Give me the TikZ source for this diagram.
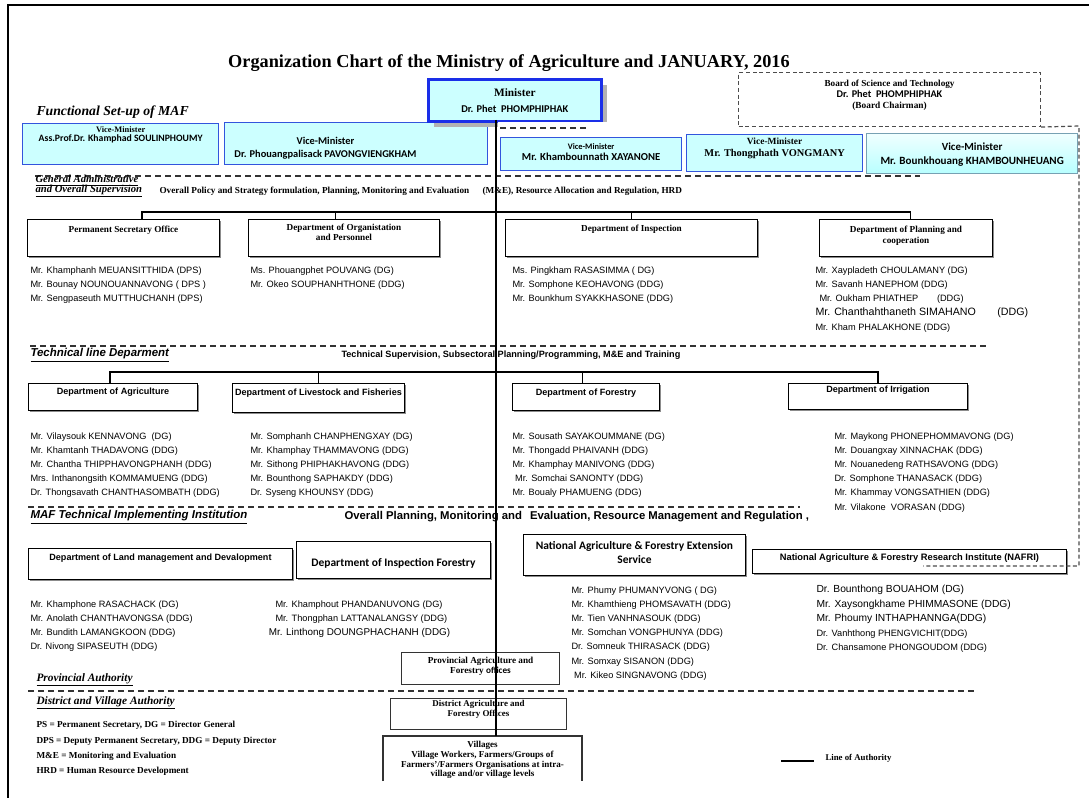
\documentclass[tikz,border=0pt]{standalone}
\usepackage{fontspec}
\setmainfont{Liberation Serif}
\setsansfont{Liberation Sans}
\newfontfamily\calibri{Carlito}
\usetikzlibrary{positioning,shadows}

\definecolor{vmfill}{HTML}{CCFFFF}
\definecolor{vmblue}{HTML}{3355DD}
\definecolor{minblue}{HTML}{1A2FE8}
\newcommand{\fsz}[2]{\fontsize{#1}{#2}\selectfont}

\tikzset{every picture/.style={line width=0.75pt}}
\tikzset{
  ttl/.style={font={\bfseries\fsz{13.7}{16}}, inner sep=0pt},
  secserif/.style={font={\bfseries\itshape\fsz{8}{7.2}\lineskiplimit=-6pt}, inner sep=0pt, anchor=north west, align=left},
  secsans/.style={font={\sffamily\bfseries\itshape\fsz{8.6}{10}}, inner sep=0pt, anchor=west},
  note/.style={font={\bfseries\fsz{6.9}{8}}, inner sep=0pt, anchor=west},
  notesans/.style={font={\sffamily\bfseries\fsz{6.85}{8}}, inner sep=0pt, anchor=west},
  namelist/.style={font={\sffamily\fsz{6.9}{10.7}}, inner sep=0pt, anchor=north west, align=left},
  vmbox/.style={draw=vmblue, fill=vmfill, line width=1pt, inner sep=0pt, anchor=north west},
  deptbox/.style={draw, fill=white, line width=0.7pt, inner sep=0pt, anchor=north west,
    drop shadow={shadow xshift=1.5pt, shadow yshift=-1.5pt, fill=black!45, opacity=1}},
  plainbox/.style={draw=black!80, fill=white, line width=0.8pt, inner sep=0pt, anchor=north west},
  lbl/.style={inner sep=0pt, align=center, anchor=north},
  serifb/.style={font={\bfseries\fsz{6.9}{8.3}}},
  sansb/.style={font={\sffamily\bfseries\fsz{6.8}{8.3}}},
  calb/.style={font={\calibri\bfseries\fsz{8.6}{10.5}}},
  tree/.style={line width=1.1pt},
  sepline/.style={dash pattern=on 4.5pt off 3pt, line width=0.9pt, black!80},
}

\begin{document}
\begin{tikzpicture}[x=0.75pt,y=-0.75pt]
\useasboundingbox (0,0) rectangle (1089,798);
% frame
\draw[line width=1pt] (8,798) -- (8,5) -- (1089,5);

\node[ttl] (title) at (509,63) {Organization Chart of the Ministry of Agriculture and JANUARY, 2016};

% vice-ministers
\node[vmbox, minimum width=196*0.75pt, minimum height=41*0.75pt] (vm1) at (22,123) {};
\node[vmbox, minimum width=263*0.75pt, minimum height=42*0.75pt] (vm2) at (224,122) {};
\node[vmbox, minimum width=181*0.75pt, minimum height=33*0.75pt] (vm3) at (500,137) {};
\node[vmbox, minimum width=176*0.75pt, minimum height=37*0.75pt] (vm4) at (686,134) {};
\node[vmbox, draw=cyan!35!gray, top color=cyan!6, bottom color=cyan!28, minimum width=211*0.75pt,
  minimum height=40*0.75pt] (vm5) at (866,133) {};
\node[lbl, font={\bfseries\fsz{6.3}{6.6}}, yshift=-2.25pt] (vm1t) at (vm1.north)
  {Vice-Minister\\{\calibri\fsz{7.3}{6.6}Ass.Prof.Dr. Khamphad SOULINPHOUMY}};
\node[lbl, font={\calibri\bfseries\fsz{7.8}{9.75}}, xshift=-23pt, yshift=-10.8pt] (vm2t) at (vm2.north)
  {Vice-Minister\\Dr. Phouangpalisack PAVONGVIENGKHAM};
\node[lbl, font={\calibri\bfseries\fsz{6.3}{8.25}}, yshift=-4.5pt] (vm3t) at (vm3.north)
  {Vice-Minister\\{\fsz{8}{8.25}Mr. Khambounnath XAYANONE}};
\node[lbl, font={\bfseries\fsz{7.1}{9}}, yshift=-2.8pt] (vm4t) at (vm4.north)
  {Vice-Minister\\{\fsz{7.8}{9}Mr. Thongphath VONGMANY}};
\node[lbl, font={\calibri\bfseries\fsz{8.2}{10.5}}, yshift=-6.75pt] (vm5t) at (vm5.north)
  {Vice-Minister\\{\fsz{8.3}{10.5}Mr. Bounkhouang KHAMBOUNHEUANG}};

% minister and board
\node[draw=minblue, line width=2pt, fill=vmfill, minimum width=173*0.75pt, minimum height=42*0.75pt,
  anchor=north west, align=center, inner sep=0pt, font={\bfseries\fsz{8.5}{12}},
  drop shadow={shadow xshift=4.5pt, shadow yshift=-4.5pt, fill=black!30, opacity=1}] (min) at (427,78)
  {Minister\\{\calibri\fsz{7.8}{12}Dr. Phet\ \ PHOMPHIPHAK}};
\fill[white] (498,122.2) rectangle (612,127);
\node[draw=black!70, dash pattern=on 3pt off 2pt, line width=0.8pt, minimum width=302*0.75pt,
  minimum height=54*0.75pt, anchor=north west, inner sep=0pt] (board) at (738,72) {};
\node[lbl, font={\bfseries\fsz{6.9}{8.25}}, yshift=-6pt] (boardt) at (board.north)
  {Board of Science and Technology\\{\calibri\fsz{7.7}{8.25}Dr. Phet\ \ PHOMPHIPHAK}\\{\fsz{7}{8.25}(Board Chairman)}};

\node[font={\bfseries\itshape\fsz{10.3}{12}}, inner sep=0pt, anchor=west] (fsu) at (36,112) {Functional Set-up of MAF};

% dashed limits
\draw[sepline] (500,128) -- (586,128);
\draw[sepline] (35,176) -- (920,176);

% general administrative
\node[secserif] (gen) at (35,175) {\underline{General Administrative}\\\underline{and Overall Supervision}};
\node[note] (gent) at (159,191) {Overall Policy and Strategy formulation, Planning, Monitoring and Evaluation\hspace{10pt}(M\&E), Resource Allocation and Regulation, HRD};

\node[deptbox, minimum width=192*0.75pt, minimum height=37*0.75pt] (pso) at (27,219) {};
\node[deptbox, minimum width=191*0.75pt, minimum height=37*0.75pt] (dop) at (248,219) {};
\node[deptbox, minimum width=252*0.75pt, minimum height=37*0.75pt] (ins) at (505,219) {};
\node[deptbox, minimum width=173*0.75pt, minimum height=37*0.75pt] (pln) at (819,219) {};
\node[lbl, serifb, yshift=-5.1pt] (psot) at (pso.north) {Permanent Secretary Office};
\node[lbl, serifb, font={\bfseries\fsz{6.9}{7.1}}, yshift=-3.6pt] (dopt) at (dop.north) {Department of Organistation\\and Personnel};
\node[lbl, serifb, yshift=-4.3pt] (inst) at (ins.north) {Department of Inspection};
\node[lbl, serifb, font={\bfseries\fsz{6.9}{8.25}}, yshift=-5.1pt] (plnt) at (pln.north) {Department of Planning and\\cooperation};
\coordinate (bar1) at (496,212);
\draw[tree] ([xshift=14pt]pso.north) |- (bar1) -| ([xshift=3.4pt]pln.north);
\draw[tree] ([xshift=-6.4pt]dop.north) -- ++(0,-7);
\draw[tree] (ins.north) -- ++(0,-7);

\node[namelist] (psol) at (30,266) {Mr. Khamphanh MEUANSITTHIDA (DPS)\\Mr. Bounay NOUNOUANNAVONG ( DPS )\\Mr. Sengpaseuth MUTTHUCHANH (DPS)};
\node[namelist] (dopl) at (250,266) {Ms. Phouangphet POUVANG (DG)\\Mr. Okeo SOUPHANHTHONE (DDG)};
\node[namelist] (insl) at (512,266) {Ms. Pingkham RASASIMMA ( DG)\\Mr. Somphone KEOHAVONG (DDG)\\Mr. Bounkhum SYAKKHASONE (DDG)};
\node[namelist] (plnl) at (815,266) {Mr. Xaypladeth CHOULAMANY (DG)\\Mr. Savanh HANEPHOM (DDG)\\\hspace*{3pt}Mr. Oukham PHIATHEP\hspace{14pt}(DDG)\\{\fsz{8}{10.7}Mr. Chanthahthaneth SIMAHANO\hspace{16pt}(DDG)}\\Mr. Kham PHALAKHONE (DDG)};

\draw[sepline] (30,346) -- (990,346);

% technical line
\node[secsans] (tech) at (30,355) {\underline{Technical line Deparment}};
\node[notesans] (techt) at (341,355) {Technical Supervision, Subsectoral Planning/Programming, M\&E and Training};

\node[deptbox, minimum width=169*0.75pt, minimum height=27*0.75pt] (agr) at (28,383) {};
\node[deptbox, minimum width=172*0.75pt, minimum height=29*0.75pt] (liv) at (232,383) {};
\node[deptbox, minimum width=147*0.75pt, minimum height=27*0.75pt] (forb) at (512,383) {};
\node[deptbox, minimum width=179*0.75pt, minimum height=26*0.75pt] (irr) at (788,383) {};
\node[lbl, sansb, yshift=-3.6pt] (agrt) at (agr.north) {Department of Agriculture};
\node[lbl, sansb, yshift=-4.3pt] (livt) at (liv.north) {Department of Livestock and Fisheries};
\node[lbl, sansb, yshift=-4.3pt] (fort) at (forb.north) {Department of Forestry};
\node[lbl, sansb, yshift=-2.1pt] (irrt) at (irr.north) {Department of Irrigation};
\coordinate (bar2) at (496,372);
\draw[tree] ([xshift=-2.25pt]agr.north) |- (bar2) -| (irr.north);
\draw[tree] (liv.north) -- ++(0,-11);
\draw[tree] ([xshift=-2.6pt]forb.north) -- ++(0,-11);

\node[namelist, font={\sffamily\fsz{6.9}{10.65}}] (agrl) at (30,432) {Mr. Vilaysouk KENNAVONG\ \ (DG)\\Mr. Khamtanh THADAVONG (DDG)\\Mr. Chantha THIPPHAVONGPHANH (DDG)\\Mrs. Inthanongsith KOMMAMUENG (DDG)\\Dr. Thongsavath CHANTHASOMBATH (DDG)};
\node[namelist, font={\sffamily\fsz{6.9}{10.65}}] (livl) at (250,432) {Mr. Somphanh CHANPHENGXAY (DG)\\Mr. Khamphay THAMMAVONG (DDG)\\Mr. Sithong PHIPHAKHAVONG (DDG)\\Mr. Bounthong SAPHAKDY (DDG)\\Dr. Syseng KHOUNSY (DDG)};
\node[namelist, font={\sffamily\fsz{6.9}{10.65}}] (forl) at (512,432) {Mr. Sousath SAYAKOUMMANE (DG)\\Mr. Thongadd PHAIVANH (DDG)\\Mr. Khamphay MANIVONG (DDG)\\\hspace*{2pt}Mr. Somchai SANONTY (DDG)\\Mr. Boualy PHAMUENG (DDG)};
\node[namelist, font={\sffamily\fsz{6.9}{10.65}}] (irrl) at (834,432) {Mr. Maykong PHONEPHOMMAVONG (DG)\\Mr. Douangxay XINNACHAK (DDG)\\Mr. Nouanedeng RATHSAVONG (DDG)\\Dr. Somphone THANASACK (DDG)\\Mr. Khammay VONGSATHIEN (DDG)\\Mr. Vilakone\ \ VORASAN (DDG)};

\draw[sepline] (28,507) -- (800,507);

% implementing institutions
\node[secsans] (maf) at (30,517) {\underline{MAF Technical Implementing Institution}};
\node[notesans, font={\sffamily\bfseries\fsz{8.5}{9}}] (maft) at (344,517) {Overall Planning, Monitoring and\hspace{6pt}Evaluation, Resource Management and Regulation ,};

\node[deptbox, minimum width=264*0.75pt, minimum height=31*0.75pt] (lnd) at (28,548) {};
\node[deptbox, minimum width=194*0.75pt, minimum height=37*0.75pt] (ifr) at (296,541) {};
\node[deptbox, minimum width=222*0.75pt, minimum height=41*0.75pt] (ext) at (523,534) {};
\node[deptbox, minimum width=314*0.75pt, minimum height=24*0.75pt] (naf) at (752,549) {};
\node[lbl, sansb, yshift=-4.3pt] (lndt) at (lnd.north) {Department of Land management and Devalopment};
\node[lbl, calb, yshift=-12.75pt] (ifrt) at (ifr.north) {Department of Inspection Forestry};
\node[lbl, calb, yshift=-5.25pt] (extt) at (ext.north) {National Agriculture \& Forestry Extension\\Service};
\node[lbl, sansb, font={\sffamily\bfseries\fsz{7}{8}}, yshift=-3.5pt] (naft) at (naf.north) {National Agriculture \& Forestry Research Institute (NAFRI)};

% dashed limit of the board
\draw[sepline, dash pattern=on 3pt off 2pt, black!70] (board.south east) -- (1079,126) -- (1079,566) -- (923,566);

\node[namelist] (lndl) at (30,600) {Mr. Khamphone RASACHACK (DG)\\Mr. Anolath CHANTHAVONGSA (DDG)\\Mr. Bundith LAMANGKOON (DDG)\\Dr. Nivong SIPASEUTH (DDG)};
\node[namelist] (ifrl) at (275,600) {Mr. Khamphout PHANDANUVONG (DG)\\Mr. Thongphan LATTANALANGSY (DDG)\\\hspace*{-5pt}{\fsz{7.4}{10.7}Mr. Linthong DOUNGPHACHANH (DDG)}};
\node[namelist, font={\sffamily\fsz{6.9}{10.65}}] (extl) at (571,586) {Mr. Phumy PHUMANYVONG ( DG)\\Mr. Khamthieng PHOMSAVATH (DDG)\\Mr. Tien VANHNASOUK (DDG)\\Mr. Somchan VONGPHUNYA (DDG)\\Dr. Somneuk THIRASACK (DDG)\\Mr. Somxay SISANON (DDG)\\\hspace*{2pt}Mr. Kikeo SINGNAVONG (DDG)};
\node[namelist, font={\sffamily\fsz{7.7}{10.8}}] (nafl) at (816,585) {Dr. Bounthong BOUAHOM (DG)\\Mr. Xaysongkhame PHIMMASONE (DDG)\\Mr. Phoumy INTHAPHANNGA(DDG)\\{\fsz{6.9}{10.8}Dr. Vanhthong PHENGVICHIT(DDG)}\\{\fsz{6.9}{10.8}Dr. Chansamone PHONGOUDOM (DDG)}};

% provincial, district and village level
\node[plainbox, minimum width=158*0.75pt, minimum height=32*0.75pt] (prv) at (401,652) {};
\node[lbl, font={\bfseries\fsz{6.9}{6}}, yshift=-3.75pt] (prvt) at (prv.north) {Provincial Agriculture and\\Forestry {\calibri offices}};
\draw[sepline] (28,691) -- (976,691);
\node[font={\bfseries\itshape\fsz{8.5}{10}}, inner sep=0pt, anchor=west] (prva) at (36,680) {\underline{Provincial Authority}};
\node[font={\bfseries\itshape\fsz{8.5}{10}}, inner sep=0pt, anchor=west] (dsta) at (36,703) {\underline{District and Village Authority}};
\node[plainbox, minimum width=176*0.75pt, minimum height=31*0.75pt] (dst) at (390,698) {};
\node[lbl, font={\bfseries\fsz{6.7}{6}}, yshift=-1.5pt] (dstt) at (dst.north) {District Agriculture and\\Forestry Offices};
\node[inner sep=0pt, anchor=north west, minimum width=198*0.75pt, minimum height=44*0.75pt] (vil) at (383,736) {};
\draw[line width=0.8pt, black!80] (vil.south west) -- (vil.north west) -- (vil.north east) -- (vil.south east);
\node[lbl, font={\bfseries\fsz{6.8}{6}}, yshift=-3.75pt] (vilt) at (vil.north) {Villages\\Village Workers, Farmers/Groups of\\Farmers'/Farmers Organisations at intra-\\village and/or village levels};

% abbreviations
\node[note] (leg1) at (36,725) {PS = Permanent Secretary, DG = Director General};
\node[note] (leg2) at (36,741) {DPS = Deputy Permanent Secretary, DDG = Deputy Director};
\node[note] (leg3) at (36,756) {M\&E = Monitoring and Evaluation};
\node[note] (leg4) at (36,771) {HRD = Human Resource Development};
\coordinate (loa0) at (781,761);
\draw[line width=1.5pt] (loa0) -- ++(33,0);
\node[note, font={\bfseries\fsz{6.6}{8}}] (loa) at (825,758) {Line of Authority};

% line of authority from the minister
\coordinate (spine) at (496,120);
\draw[tree] (spine) -- (spine |- vil.north);
\end{tikzpicture}
\end{document}
